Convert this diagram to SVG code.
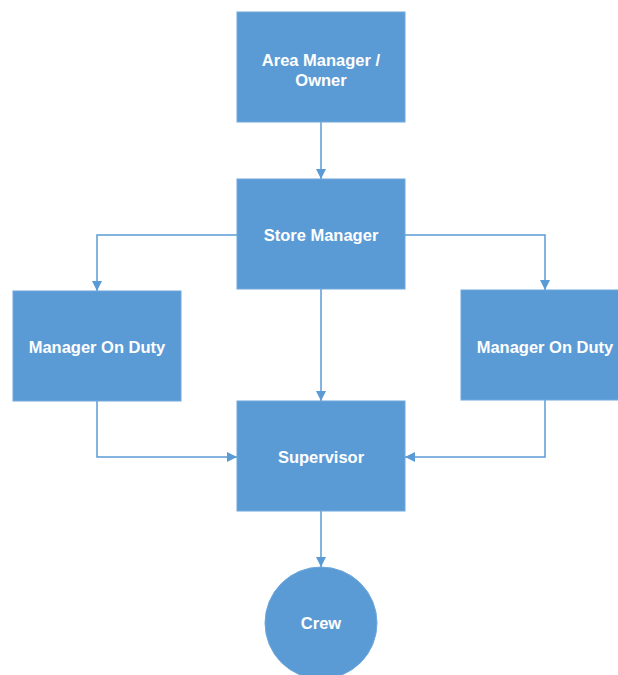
<svg xmlns="http://www.w3.org/2000/svg" width="618" height="675" viewBox="0 0 618 675">
  <defs>
    <marker id="arrow" viewBox="0 0 10 10" refX="10" refY="5" markerWidth="10" markerHeight="11" markerUnits="userSpaceOnUse" orient="auto">
      <path d="M0,0 L10,5 L0,10 Z" fill="#5b9bd5"/>
    </marker>
  </defs>
  <style>
    .box { fill: #5b9bd5; stroke: #6fa8dc; stroke-width: 1; }
    .lbl { fill: #ffffff; font-family: "Liberation Sans", Arial, sans-serif; font-weight: bold; font-size: 16.5px; text-anchor: middle; }
    .link { fill: none; stroke: #5b9bd5; stroke-width: 1.5; marker-end: url(#arrow); }
  </style>
  <rect width="618" height="675" fill="#ffffff"/>

  <g id="connectors">
    <path class="link" d="M321,122 V179"/>
    <path class="link" d="M237,235 H97 V291"/>
    <path class="link" d="M405,235 H545 V290"/>
    <path class="link" d="M321,289 V401"/>
    <path class="link" d="M97,401 V457 H237"/>
    <path class="link" d="M545,400 V457 H405"/>
    <path class="link" d="M321,511 V567"/>
  </g>

  <g id="area-manager">
    <rect class="box" x="237" y="12" width="168" height="110"/>
    <text class="lbl" x="321" y="66">Area Manager /</text>
    <text class="lbl" x="321" y="86">Owner</text>
  </g>

  <g id="store-manager">
    <rect class="box" x="237" y="179" width="168" height="110"/>
    <text class="lbl" x="321" y="241">Store Manager</text>
  </g>

  <g id="mod-left">
    <rect class="box" x="13" y="291" width="168" height="110"/>
    <text class="lbl" x="97" y="353">Manager On Duty</text>
  </g>

  <g id="mod-right">
    <rect class="box" x="461" y="290" width="168" height="110"/>
    <text class="lbl" x="545" y="353">Manager On Duty</text>
  </g>

  <g id="supervisor">
    <rect class="box" x="237" y="401" width="168" height="110"/>
    <text class="lbl" x="321" y="463">Supervisor</text>
  </g>

  <g id="crew">
    <circle class="box" cx="321" cy="623" r="56"/>
    <text class="lbl" x="321" y="629">Crew</text>
  </g>
</svg>
